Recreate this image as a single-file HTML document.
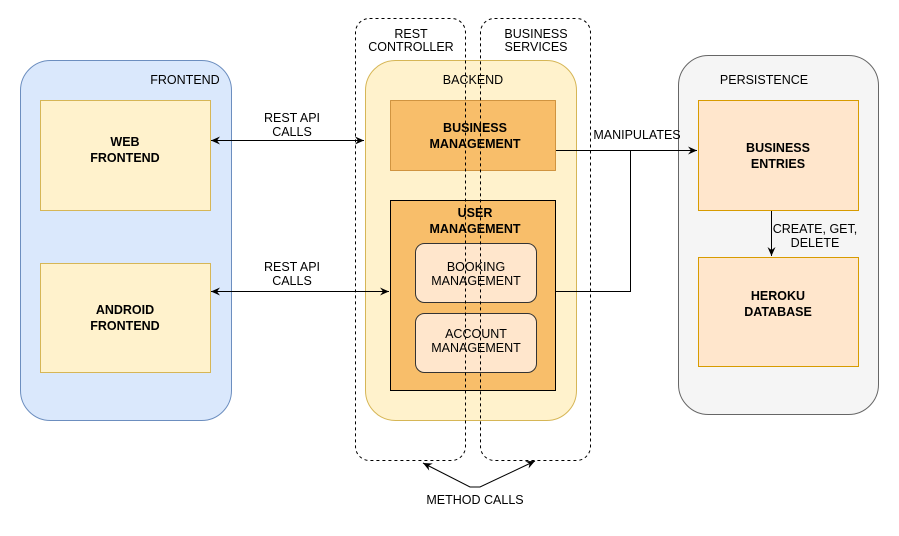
<!DOCTYPE html>
<html><head><style>
body{margin:0;background:#fff;}
svg text{font-family:"Liberation Sans",Arial,sans-serif;font-size:12.5px;fill:#000;}
.b{font-weight:bold;}
</style></head><body>
<svg width="899" height="531" viewBox="0 0 899 531" xmlns="http://www.w3.org/2000/svg">
<defs>
<marker id="a" markerWidth="10" markerHeight="10" refX="9" refY="5" orient="auto-start-reverse" markerUnits="userSpaceOnUse">
<path d="M0,1 L9,5 L0,9 L3,5 Z" fill="#000"/></marker>
</defs>
<rect x="20.5" y="60.5" width="211" height="360" rx="30" fill="#dae8fc" stroke="#6c8ebf"/>
<text x="185" y="84" text-anchor="middle">FRONTEND</text>
<rect x="40.5" y="100.5" width="170" height="110" fill="#fff2cc" stroke="#d6b656"/>
<text x="125" y="146" text-anchor="middle" class="b">WEB</text>
<text x="125" y="162" text-anchor="middle" class="b">FRONTEND</text>
<rect x="40.5" y="263.5" width="170" height="109" fill="#fff2cc" stroke="#d6b656"/>
<text x="125" y="314" text-anchor="middle" class="b">ANDROID</text>
<text x="125" y="330" text-anchor="middle" class="b">FRONTEND</text>
<rect x="678.5" y="55.5" width="200" height="359" rx="30" fill="#f5f5f5" stroke="#666"/>
<text x="764" y="84" text-anchor="middle">PERSISTENCE</text>
<rect x="698.5" y="100.5" width="160" height="110" fill="#ffe6cc" stroke="#d79b00"/>
<text x="778" y="152" text-anchor="middle" class="b">BUSINESS</text>
<text x="778" y="168" text-anchor="middle" class="b">ENTRIES</text>
<rect x="698.5" y="257.5" width="160" height="109" fill="#ffe6cc" stroke="#d79b00"/>
<text x="778" y="300" text-anchor="middle" class="b">HEROKU</text>
<text x="778" y="316" text-anchor="middle" class="b">DATABASE</text>
<rect x="365.5" y="60.5" width="211" height="360" rx="30" fill="#fff2cc" stroke="#d6b656"/>
<text x="473" y="84" text-anchor="middle">BACKEND</text>
<rect x="390.5" y="100.5" width="165" height="70" fill="#f8be6a" stroke="#b46504" stroke-opacity="0.6"/>
<text x="475" y="132" text-anchor="middle" class="b">BUSINESS</text>
<text x="475" y="148" text-anchor="middle" class="b">MANAGEMENT</text>
<rect x="390.5" y="200.5" width="165" height="190" fill="#f8be6a" stroke="#000"/>
<text x="475" y="217" text-anchor="middle" class="b">USER</text>
<text x="475" y="233" text-anchor="middle" class="b">MANAGEMENT</text>
<rect x="415.5" y="243.5" width="121" height="59" rx="9" fill="#ffe6cc" stroke="#333"/>
<text x="476" y="271" text-anchor="middle">BOOKING</text>
<text x="476" y="285" text-anchor="middle">MANAGEMENT</text>
<rect x="415.5" y="313.5" width="121" height="59" rx="9" fill="#ffe6cc" stroke="#333"/>
<text x="476" y="338" text-anchor="middle">ACCOUNT</text>
<text x="476" y="352" text-anchor="middle">MANAGEMENT</text>
<rect x="355.5" y="18.5" width="110" height="442" rx="14" fill="none" stroke="#000" stroke-dasharray="3,3"/>
<text x="411" y="38" text-anchor="middle">REST</text>
<text x="411" y="51" text-anchor="middle">CONTROLLER</text>
<rect x="480.5" y="18.5" width="110" height="442" rx="14" fill="none" stroke="#000" stroke-dasharray="3,3"/>
<text x="536" y="38" text-anchor="middle">BUSINESS</text>
<text x="536" y="51" text-anchor="middle">SERVICES</text>
<line x1="211" y1="140.5" x2="364" y2="140.5" stroke="#000" marker-start="url(#a)" marker-end="url(#a)"/>
<rect x="258" y="111" width="68" height="28" fill="#fff"/>
<text x="292" y="122" text-anchor="middle">REST API</text>
<text x="292" y="136" text-anchor="middle">CALLS</text>
<line x1="211" y1="291.5" x2="389" y2="291.5" stroke="#000" marker-start="url(#a)" marker-end="url(#a)"/>
<rect x="258" y="260" width="68" height="28" fill="#fff"/>
<text x="292" y="271" text-anchor="middle">REST API</text>
<text x="292" y="285" text-anchor="middle">CALLS</text>
<line x1="556" y1="150.5" x2="697" y2="150.5" stroke="#000" marker-end="url(#a)"/>
<polyline points="556,291.5 630.5,291.5 630.5,150.5" fill="none" stroke="#000"/>
<text x="637" y="139" text-anchor="middle">MANIPULATES</text>
<line x1="771.5" y1="211" x2="771.5" y2="256" stroke="#000" marker-end="url(#a)"/>
<text x="815" y="233" text-anchor="middle">CREATE, GET,</text>
<text x="815" y="247" text-anchor="middle">DELETE</text>
<polyline points="423,463 470,487 480,487 535,461" fill="none" stroke="#000" marker-start="url(#a)" marker-end="url(#a)"/>
<text x="475" y="504" text-anchor="middle">METHOD CALLS</text>
</svg>
</body></html>
